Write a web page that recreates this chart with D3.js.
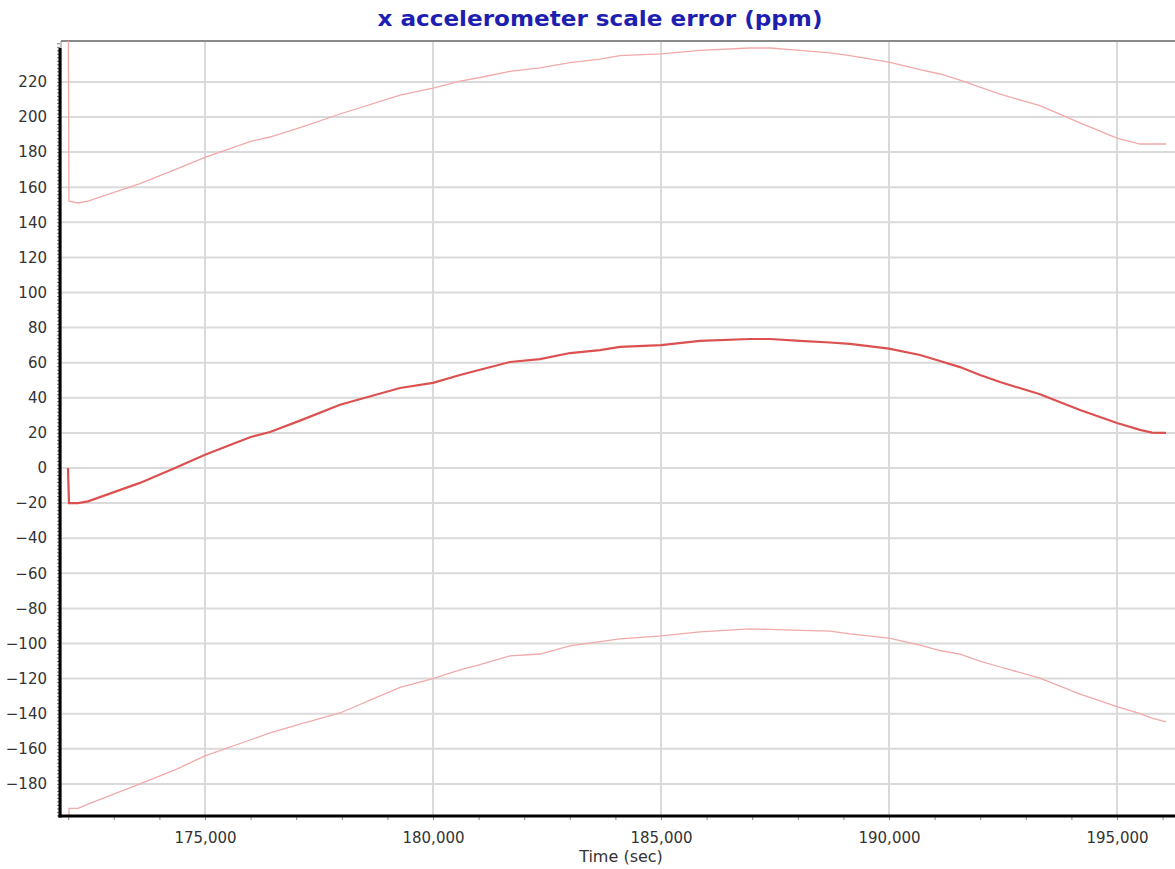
<!DOCTYPE html>
<html><head><meta charset="utf-8">
<script src="https://cdn.jsdelivr.net/npm/d3@7"></script>
<style>body{margin:0;background:#fff;}svg{display:block;}</style>
</head><body>
<svg id="c" width="1175" height="869"></svg>
<script>
const title = "x accelerometer scale error (ppm)";
const xLabel = "Time (sec)";
const times = [171995,172017,172215,172434,173574,174342,175000,175987,176426,177083,177961,179276,180000,180592,181031,181688,182346,183004,183662,184101,185000,185855,186952,187390,188049,188707,189145,190000,190680,191118,191557,191996,192434,193311,194189,195000,195504,195768,196075];
const estimate = [0,-20,-20,-19,-8.5,0,7.5,17.5,20.5,27,36,45.6,48.5,53,56,60.4,62,65.5,67.2,69,70,72.4,73.5,73.5,72.4,71.5,70.7,68,64.4,61,57.5,53,49,42,33,25.6,21.7,20.2,20];
const upper = [300,152,151,152,162,170,177,186,188.6,194,201.7,212.5,216.5,220.5,222.5,226,228,231,233,235,236,238,239.3,239.3,238,236.5,235,231.3,227,224.5,221,217,213,206.5,196.6,188,184.6,184.6,184.6];
const lower = [-300,-194,-194,-191.5,-180,-172,-164,-155,-151,-146,-139.6,-125,-120,-115,-112,-107,-106,-101.4,-99,-97.4,-95.7,-93.4,-91.7,-92,-92.5,-93,-94.5,-96.9,-101,-104,-106,-110,-113.4,-119.7,-128.8,-136,-140,-142.5,-144.7];
const xTicks = [175000,180000,185000,190000,195000];
const yTicks = [-180,-160,-140,-120,-100,-80,-60,-40,-20,0,20,40,60,80,100,120,140,160,180,200,220];

const svg = d3.select("#c");
const L = 61, R = 1175, T = 41, B = 816;
const x = d3.scaleLinear().domain([171842, 196272]).range([L, R]);
const y = d3.scaleLinear().domain([-198.3, 243.3]).range([B, T]);
const font = "Verdana, 'DejaVu Sans', sans-serif";

svg.append("defs").append("clipPath").attr("id","clip")
  .append("rect").attr("x",L).attr("y",T).attr("width",R-L).attr("height",B-T);

// grid
svg.append("g").selectAll("line").data(yTicks).join("line")
  .attr("x1",L).attr("x2",R).attr("y1",d=>y(d)).attr("y2",d=>y(d))
  .attr("stroke","#dadada").attr("stroke-width",2);
svg.append("g").selectAll("line").data(xTicks).join("line")
  .attr("y1",T).attr("y2",B).attr("x1",d=>x(d)).attr("x2",d=>x(d))
  .attr("stroke","#dadada").attr("stroke-width",2);

// frame top
svg.append("line").attr("x1",L).attr("x2",R).attr("y1",T).attr("y2",T)
  .attr("stroke","#8a8a8a").attr("stroke-width",2);
svg.append("line").attr("x1",L).attr("x2",L).attr("y1",T).attr("y2",B)
  .attr("stroke","#8a8a8a").attr("stroke-width",1);

// series
const line = d3.line().x((d,i)=>x(times[i])).y(d=>y(d));
const g = svg.append("g").attr("clip-path","url(#clip)");
g.append("path").attr("d",line(upper)).attr("fill","none").attr("stroke","#f2a9a9").attr("stroke-width",1.3);
g.append("path").attr("d",line(lower)).attr("fill","none").attr("stroke","#f2a9a9").attr("stroke-width",1.3);
g.append("path").attr("d",line(estimate)).attr("fill","none").attr("stroke","#dc5050").attr("stroke-width",2.2);

// y axis
const yMinor = d3.range(-198, 244, 2);
const yAx = d3.axisLeft(y).tickValues(yMinor).tickSize(3).tickFormat("");
const gy = svg.append("g").attr("transform",`translate(${L-1},0)`).call(yAx);
gy.select(".domain").remove();
gy.selectAll(".tick line").attr("stroke","#777").attr("stroke-width",1);
svg.append("line").attr("x1",L-1).attr("x2",L-1).attr("y1",48).attr("y2",B+1.5)
  .attr("stroke","#000").attr("stroke-width",3);
const gyl = svg.append("g").attr("transform",`translate(${L-1},0)`)
  .call(d3.axisLeft(y).tickValues(yTicks).tickSize(0).tickPadding(13).tickFormat(d3.format("d")));
gyl.select(".domain").remove();
gyl.selectAll("text").attr("font-family",font).attr("font-size",15).attr("fill","#333");

// x axis
const xMinor = d3.range(172000, 196300, 1000);
const gx = svg.append("g").attr("transform",`translate(0,${B})`)
  .call(d3.axisBottom(x).tickValues(xMinor).tickSize(4).tickFormat(""));
gx.select(".domain").remove();
gx.selectAll(".tick line").attr("stroke","#888");
svg.append("line").attr("x1",L-2.5).attr("x2",R).attr("y1",B).attr("y2",B)
  .attr("stroke","#000").attr("stroke-width",3);
const gxl = svg.append("g").attr("transform",`translate(0,${B})`)
  .call(d3.axisBottom(x).tickValues(xTicks).tickSize(0).tickPadding(16).tickFormat(d3.format(",")));
gxl.select(".domain").remove();
gxl.selectAll("text").attr("font-family",font).attr("font-size",15).attr("fill","#333");

svg.append("text").attr("x",(L+R)/2+3).attr("y",862).attr("text-anchor","middle")
  .attr("font-family",font).attr("font-size",16).attr("fill","#333").text(xLabel);

svg.append("text").attr("x",600).attr("y",26).attr("text-anchor","middle")
  .attr("font-family",font).attr("font-size",21).attr("font-weight","bold")
  .attr("textLength",445).attr("lengthAdjust","spacingAndGlyphs")
  .attr("fill","#1e1eb0").text(title);
</script>
</body></html>
